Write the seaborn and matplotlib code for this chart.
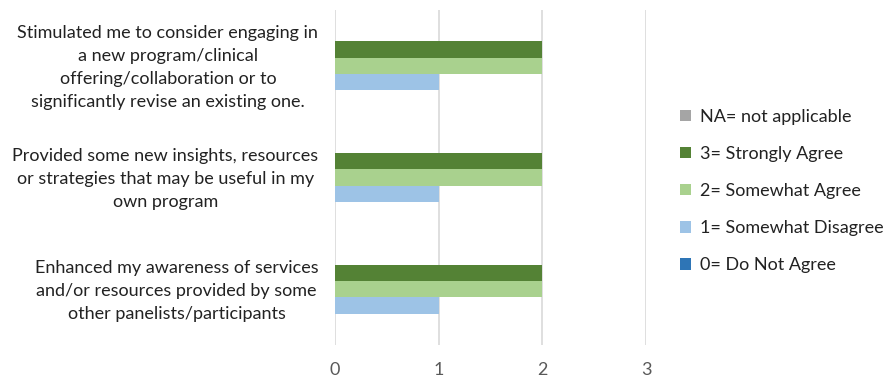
import matplotlib
matplotlib.use("Agg")
import matplotlib.pyplot as plt
import matplotlib.transforms as mtransforms
import seaborn as sns
import pandas as pd
from matplotlib.patches import Patch

categories = [
    "Stimulated me to consider engaging in\na new program/clinical\noffering/collaboration or to\nsignificantly revise an existing one.",
    "Provided some new insights, resources\nor strategies that may be useful in my\nown program",
    "Enhanced my awareness of services\nand/or resources provided by some\nother panelists/participants",
]
series_names = ["NA= not applicable", "3= Strongly Agree", "2= Somewhat Agree",
                "1= Somewhat Disagree", "0= Do Not Agree"]
na_vals = [0, 0, 0]
strongly_agree = [2, 2, 2]
somewhat_agree = [2, 2, 2]
somewhat_disagree = [1, 1, 1]
do_not_agree = [0, 0, 0]
colors = ["#A5A5A5", "#548235", "#A9D18E", "#9DC3E6", "#2E75B6"]

series_vals = [na_vals, strongly_agree, somewhat_agree, somewhat_disagree, do_not_agree]
rows = []
for name, vals in zip(series_names, series_vals):
    for c, v in zip(categories, vals):
        rows.append({"cat": c, "series": name, "value": v})
df = pd.DataFrame(rows)

sns.set_theme(style="white")
plt.rcParams["font.family"] = ["Lato", "DejaVu Sans"]

fig = plt.figure(figsize=(8.84, 3.77), dpi=100)
ax = fig.add_axes([335 / 884, 1 - 345 / 377, (646 - 335) / 884, (345 - 10) / 377])

sns.barplot(data=df, y="cat", x="value", hue="series", order=categories,
            hue_order=series_names, palette=colors, orient="h", width=0.73,
            ax=ax, legend=False, saturation=1, linewidth=0)

ax.set_xlim(0, 3)
ax.set_xticks([0, 1, 2, 3])
ax.set_ylim(2.5, -0.5)
ax.grid(axis="x", color="#D9D9D9", linewidth=1.2)
ax.set_axisbelow(True)
for s in ax.spines.values():
    s.set_visible(False)
ax.set_xlabel("")
ax.set_ylabel("")
ax.tick_params(axis="x", length=0, pad=12, labelsize=13, labelcolor="#595959")
ax.tick_params(axis="y", length=0, pad=12, labelsize=13, labelcolor="#222222")
shift = mtransforms.ScaledTranslation(0, 3.5 / 100, fig.dpi_scale_trans)
for lbl in ax.get_yticklabels():
    lbl.set_multialignment("center")
    lbl.set_linespacing(1.55)
    lbl.set_transform(lbl.get_transform() + shift)

handles = [Patch(facecolor=c, edgecolor="none") for c in colors]
leg = fig.legend(handles, series_names, loc="center left",
                 bbox_to_anchor=(664 / 884, 1 - 191 / 377), frameon=False,
                 fontsize=13, handlelength=0.62, handleheight=0.62,
                 handletextpad=0.5, labelspacing=1.17)
for t in leg.get_texts():
    t.set_color("#222222")

fig.savefig("out.png", dpi=100)
